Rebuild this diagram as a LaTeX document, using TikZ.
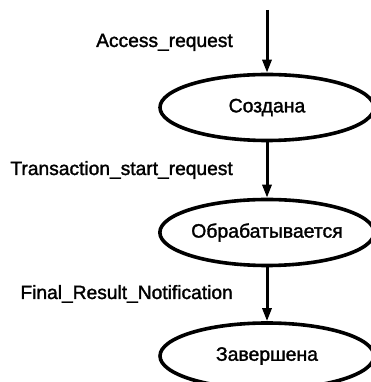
\documentclass[tikz,border=0pt]{standalone}
\usepackage{fontspec}
\setmainfont{Liberation Sans}
\newfontfamily\heavyfont{Liberation Sans}[FakeBold=1.6]
\usetikzlibrary{shapes.geometric,arrows.meta}
\begin{document}
\begin{tikzpicture}[x=1pt,y=1pt,
  state/.style={ellipse,draw,line width=3.6pt,minimum width=214pt,minimum height=66pt,inner sep=0pt,font=\heavyfont\fontsize{19.4}{22}\selectfont},
  lbl/.style={anchor=base east,inner sep=0pt,font=\heavyfont\fontsize{19.2}{22}\selectfont},
  flow/.style={line width=3pt,-{Triangle[width=9pt,length=13pt]}}]
\useasboundingbox (0,0) rectangle (371,382);
\coordinate (start) at (267,372);
\node[state] (s1) at (267,274.5) {Создана};
\node[state] (s2) at (267,149.5) {Обрабатывается};
\node[state] (s3) at (267,26) {Завершена};
\draw[flow] (start) -- (s1.north);
\draw[flow] (s1.south) -- (s2.north);
\draw[flow] (s2.south) -- (s3.north);
\node[lbl] (l1) at (233,335) {Access\_request};
\node[lbl] (l2) at (233,207) {Transaction\_start\_request};
\node[lbl] (l3) at (233,83) {Final\_Result\_Notification};
\end{tikzpicture}
\end{document}
